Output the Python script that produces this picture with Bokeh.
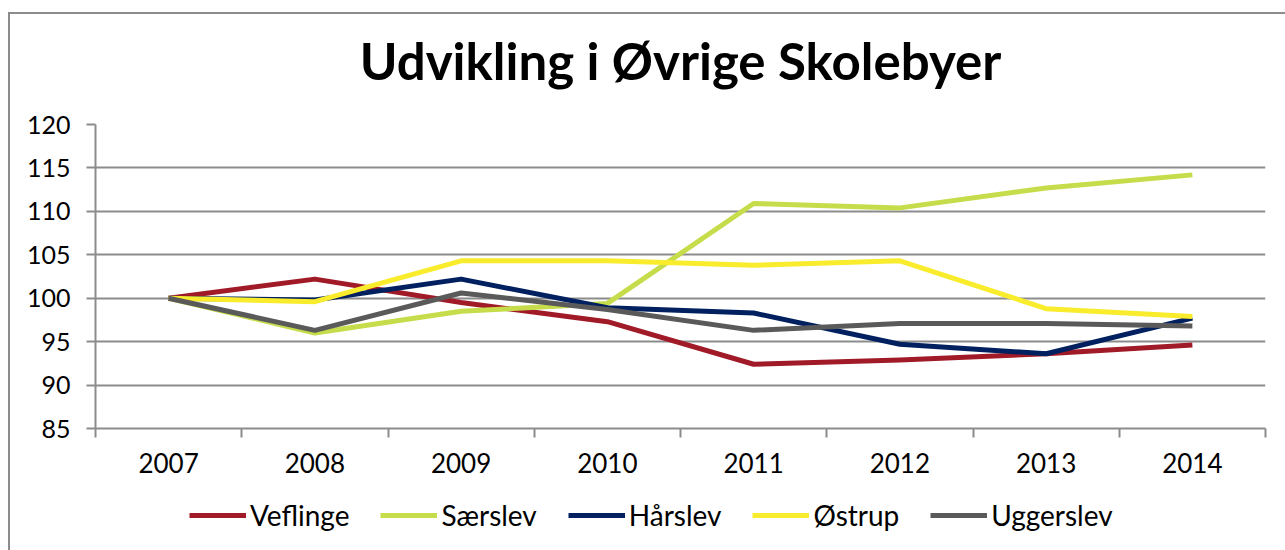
from bokeh.plotting import figure
from bokeh.layouts import column
from bokeh.models import FixedTicker, Legend, LegendItem, Range1d, Title
from bokeh.embed import file_html
from bokeh.resources import INLINE

years = ["2007", "2008", "2009", "2010", "2011", "2012", "2013", "2014"]
names = ["Veflinge", "Særslev", "Hårslev", "Østrup", "Uggerslev"]
veflinge = [100, 102.2, 99.5, 97.3, 92.4, 92.9, 93.6, 94.6]
saerslev = [100, 96.0, 98.5, 99.4, 110.9, 110.4, 112.7, 114.2]
haarslev = [100, 99.8, 102.2, 98.9, 98.3, 94.7, 93.6, 97.7]
oestrup = [100, 99.6, 104.3, 104.3, 103.8, 104.3, 98.8, 97.9]
uggerslev = [100, 96.3, 100.6, 98.7, 96.3, 97.1, 97.1, 96.8]
colors = ["#A01B27", "#C6DC4A", "#002060", "#F8EC2C", "#5A5A5A"]
y_ticks = [85, 90, 95, 100, 105, 110, 115, 120]

series = [veflinge, saerslev, haarslev, oestrup, uggerslev]
xs = [i + 0.5 for i in range(len(years))]
FONT = "Lato"
GRAY = "#8C8C8C"
W = 1275

p = figure(width=W, height=476, output_backend="svg", toolbar_location=None,
           x_range=Range1d(0, len(years)), y_range=Range1d(y_ticks[0], y_ticks[-1]),
           min_border_left=85, min_border_right=20, min_border_top=110,
           min_border_bottom=62)

# main title (outermost), spacer title between it and the frame
p.title.text = "Udvikling i Øvrige Skolebyer"
p.title.align = "center"
p.title.text_font = FONT
p.title.text_font_size = "51px"
p.title.text_font_style = "bold"
p.title.text_color = "black"
p.add_layout(Title(text=" ", text_font_size="16px"), "above")

p.outline_line_color = None
p.xgrid.visible = False
p.ygrid.grid_line_color = GRAY
p.ygrid.grid_line_width = 2

p.xaxis.ticker = FixedTicker(ticks=xs, minor_ticks=list(range(len(years) + 1)))
p.xaxis.major_label_overrides = {x: y for x, y in zip(xs, years)}
p.xaxis.major_tick_out = 0
p.xaxis.major_tick_in = 0
p.xaxis.minor_tick_out = 9
p.xaxis.minor_tick_in = 0
p.xaxis.minor_tick_line_color = GRAY
p.xaxis.minor_tick_line_width = 2
p.xaxis.axis_line_color = GRAY
p.xaxis.axis_line_width = 2
p.xaxis.major_label_standoff = 15
p.xaxis.major_label_text_font = FONT
p.xaxis.major_label_text_font_size = "26px"
p.xaxis.major_label_text_color = "black"

p.yaxis.ticker = FixedTicker(ticks=y_ticks, minor_ticks=[])
p.yaxis.major_tick_out = 9
p.yaxis.major_tick_in = 0
p.yaxis.major_tick_line_color = GRAY
p.yaxis.major_tick_line_width = 2
p.yaxis.axis_line_color = GRAY
p.yaxis.axis_line_width = 2
p.yaxis.major_label_standoff = 16
p.yaxis.major_label_text_font = FONT
p.yaxis.major_label_text_font_size = "25px"
p.yaxis.major_label_text_color = "black"

for vals, c in zip(series, colors):
    p.line(xs, vals, line_color=c, line_width=5, line_join="round")

# legend strip below the chart
q = figure(width=W, height=60, output_backend="svg", toolbar_location=None,
           x_range=Range1d(0, 1), y_range=Range1d(0, 1),
           min_border=0, outline_line_color=None)
q.axis.visible = False
q.grid.visible = False
items = []
for name, vals, c in zip(names, series, colors):
    r = q.line(xs, vals, line_color=c, line_width=5)
    items.append(LegendItem(label=name, renderers=[r]))
legend = Legend(items=items, orientation="horizontal", location=(94, 18),
                label_text_font=FONT, label_text_font_size="28px",
                label_text_color="black", glyph_width=57, glyph_height=28,
                label_height=28, label_standoff=4, spacing=31,
                border_line_color=None, background_fill_alpha=0,
                padding=0, margin=0)
q.add_layout(legend, "center")

layout = column(p, q, spacing=0,
                styles={"margin-left": "8px", "margin-top": "12px",
                        "border-left": "2px solid #8C8C8C",
                        "border-top": "2px solid #8C8C8C"})

open("out.html", "w").write(file_html(layout, INLINE))
